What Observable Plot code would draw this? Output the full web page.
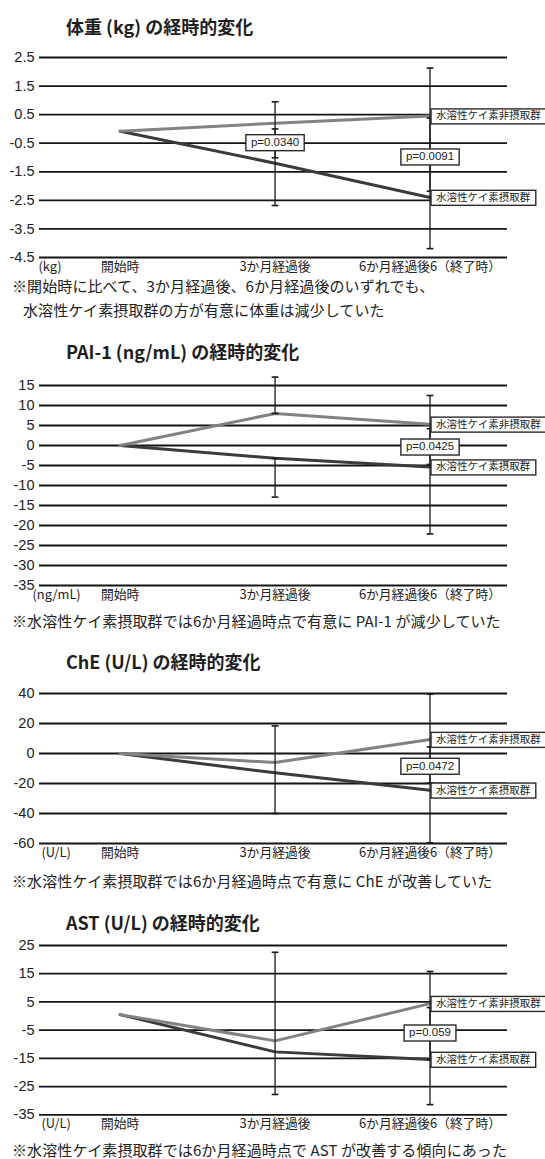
<!DOCTYPE html>
<html><head><meta charset="utf-8">
<script src="https://cdn.jsdelivr.net/npm/d3@7"></script>
<script src="https://cdn.jsdelivr.net/npm/@observablehq/plot@0.6"></script>
<style>
html,body{margin:0;padding:0;background:#fff;}
body{width:545px;height:1159px;position:relative;overflow:hidden;font-family:"Noto Sans CJK JP","Noto Sans",sans-serif;color:#222;}
.title{position:absolute;font-size:18px;line-height:18px;font-weight:bold;white-space:nowrap;color:#1e1e1e;}
.cap{position:absolute;font-size:15px;line-height:15px;letter-spacing:0.1px;white-space:nowrap;}
.panel{position:absolute;left:0;}
</style></head>
<body>
<script>
// ---- shared categories ----
const times = ["開始時", "3か月経過後", "6か月経過後6（終了時）"];
const groups = ["水溶性ケイ素非摂取群", "水溶性ケイ素摂取群"];

// ---- 体重 ----
const weightTicks = [2.5, 1.5, 0.5, -0.5, -1.5, -2.5, -3.5, -4.5];
const weightNon = [-0.08, 0.2, 0.45];
const weightIntake = [-0.08, -1.2, -2.4];
const weightErrTime = [1, 1, 2, 2];
const weightErrLo = [-1.01, -2.68, -2.18, -4.19];
const weightErrHi = [0.95, 0.0, 2.13, 0.38];
const weightPText = ["p=0.0340", "p=0.0091"];
const weightPTime = [1, 2];
const weightPY = [-0.47, -0.97];
const weightCaption = ["※開始時に比べて、3か月経過後、6か月経過後のいずれでも、", "水溶性ケイ素摂取群の方が有意に体重は減少していた"];

// ---- PAI-1 ----
const paiTicks = [15, 10, 5, 0, -5, -10, -15, -20, -25, -30, -35];
const paiNon = [0, 8.0, 5.3];
const paiIntake = [0, -3.2, -5.4];
const paiErrTime = [1, 1, 2, 2];
const paiErrLo = [8.0, -12.9, -4.75, -22.1];
const paiErrHi = [17.1, -3.2, 12.5, 4.2];
const paiPText = ["p=0.0425"];
const paiPTime = [2];
const paiPY = [-0.3];
const paiCaption = ["※水溶性ケイ素摂取群では6か月経過時点で有意に PAI-1 が減少していた"];

// ---- ChE ----
const cheTicks = [40, 20, 0, -20, -40, -60];
const cheNon = [0, -6, 9.3];
const cheIntake = [0, -12.9, -24.5];
const cheErrTime = [1, 2, 2];
const cheErrLo = [-40, -19.6, -59.5];
const cheErrHi = [18.4, 39.5, 4.4];
const chePText = ["p=0.0472"];
const chePTime = [2];
const chePY = [-8.3];
const cheCaption = ["※水溶性ケイ素摂取群では6か月経過時点で有意に ChE が改善していた"];

// ---- AST ----
const astTicks = [25, 15, 5, -5, -15, -25, -35];
const astNon = [0.5, -8.8, 4.4];
const astIntake = [0.5, -12.7, -15.4];
const astErrTime = [1, 2, 2];
const astErrLo = [-27.8, -15.4, -31.4];
const astErrHi = [22.6, 15.8, 3.0];
const astPText = ["p=0.059"];
const astPTime = [2];
const astPY = [-5.9];
const astCaption = ["※水溶性ケイ素摂取群では6か月経過時点で AST が改善する傾向にあった"];

const panels = [
  {title: "体重 (kg) の経時的変化", unit: "(kg)", unitDx: -1, ticks: weightTicks, non: weightNon, intake: weightIntake,
   errTime: weightErrTime, errLo: weightErrLo, errHi: weightErrHi, pText: weightPText, pTime: weightPTime, pY: weightPY,
   caption: weightCaption, L: {titleY: 26.7, gridTop: 57.3, gridBottom: 257.3, capY: [286.7, 310.5], capX: [12, 23]}},
  {title: "PAI-1 (ng/mL) の経時的変化", unit: "(ng/mL)", unitDx: -7, ticks: paiTicks, non: paiNon, intake: paiIntake,
   errTime: paiErrTime, errLo: paiErrLo, errHi: paiErrHi, pText: paiPText, pTime: paiPTime, pY: paiPY,
   caption: paiCaption, L: {titleY: 351.7, gridTop: 385, gridBottom: 585, capY: [621.7], capX: [12]}},
  {title: "ChE (U/L) の経時的変化", unit: "(U/L)", unitDx: 2, ticks: cheTicks, non: cheNon, intake: cheIntake,
   errTime: cheErrTime, errLo: cheErrLo, errHi: cheErrHi, pText: chePText, pTime: chePTime, pY: chePY,
   caption: cheCaption, L: {titleY: 661.7, gridTop: 693.3, gridBottom: 843.3, capY: [881.7], capX: [12]}},
  {title: "AST (U/L) の経時的変化", unit: "(U/L)", unitDx: 2, ticks: astTicks, non: astNon, intake: astIntake,
   errTime: astErrTime, errLo: astErrLo, errHi: astErrHi, pText: astPText, pTime: astPTime, pY: astPY,
   caption: astCaption, L: {titleY: 923.3, gridTop: 945, gridBottom: 1114.3, capY: [1150.5], capX: [12]}}
];

const capSymbol = {draw(ctx, size) { const r = Math.sqrt(size / Math.PI); ctx.moveTo(-r, 0); ctx.lineTo(r, 0); }};
const NUMFONT = "'Liberation Sans', Arial, sans-serif";
const JPFONT = "'Noto Sans CJK JP', sans-serif";

function boxify(g, padX, h) {
  if (!g) return;
  g.querySelectorAll("text").forEach(t => {
    const b = t.getBBox();
    const cy = parseFloat(t.getAttribute("y") || 0);
    const r = document.createElementNS("http://www.w3.org/2000/svg", "rect");
    r.setAttribute("x", b.x - padX);
    r.setAttribute("width", b.width + 2 * padX);
    r.setAttribute("y", cy - h / 2);
    r.setAttribute("height", h);
    r.setAttribute("fill", "#fff");
    r.setAttribute("stroke", "#2a2a2a");
    r.setAttribute("stroke-width", 1.4);
    const tr = t.getAttribute("transform");
    if (tr) r.setAttribute("transform", tr);
    t.parentNode.insertBefore(r, t);
  });
}

panels.forEach(p => {
  const mt = 12, mb = 26;
  const H = (p.L.gridBottom - p.L.gridTop) + mt + mb;
  const ymin = Math.min(...p.ticks), ymax = Math.max(...p.ticks);
  const series = [];
  times.forEach((t, i) => {
    series.push({t: i, v: p.non[i], g: groups[0]});
    series.push({t: i, v: p.intake[i], g: groups[1]});
  });
  const errs = p.errTime.map((t, i) => ({t, lo: p.errLo[i], hi: p.errHi[i]}));
  const caps = errs.flatMap(e => [{t: e.t, v: e.lo}, {t: e.t, v: e.hi}]);
  const labels = [{t: 2, v: p.non[2], s: groups[0]}, {t: 2, v: p.intake[2], s: groups[1]}];
  const pv = p.pText.map((s, i) => ({s, t: p.pTime[i], v: p.pY[i]}));

  const chart = Plot.plot({
    width: 545, height: H,
    marginLeft: 39, marginRight: 38, marginTop: mt, marginBottom: mb,
    x: {domain: [-0.52, 2.5], axis: null},
    y: {domain: [ymin, ymax], axis: null},
    style: {background: "transparent", overflow: "visible", color: "#222"},
    marks: [
      Plot.ruleY(p.ticks, {stroke: "#141414", strokeWidth: 1.8}),
      Plot.line(series.filter(d => d.g === groups[1]), {x: "t", y: "v", stroke: "#3b3b3b", strokeWidth: 3}),
      Plot.line(series.filter(d => d.g === groups[0]), {x: "t", y: "v", stroke: "#828282", strokeWidth: 3}),
      Plot.ruleX(errs, {x: "t", y1: "lo", y2: "hi", stroke: "#1a1a1a", strokeWidth: 1.3}),
      Plot.dot(caps, {x: "t", y: "v", symbol: capSymbol, r: 3.4, stroke: "#1a1a1a", strokeWidth: 1.6, fill: "none"}),
      Plot.text(p.ticks, {x: () => -0.52, y: d => d, text: d => String(d), textAnchor: "end", dx: -5,
        fontSize: 14.5, fontFamily: NUMFONT, fill: "#222"}),
      Plot.text(times, {x: (d, i) => i, text: d => d, frameAnchor: "bottom", dy: 13, fontSize: 12.8, fontFamily: JPFONT, fill: "#222"}),
      Plot.text([p.unit], {x: () => -0.52, text: d => d, frameAnchor: "bottom", dy: 13, dx: p.unitDx, textAnchor: "start", fontSize: 12.8, fontFamily: JPFONT, fill: "#222"}),
      Plot.text(labels, {x: "t", y: "v", text: "s", textAnchor: "start", dx: 6, fontSize: 10.5, fontFamily: JPFONT, fill: "#222"}),
      Plot.text(pv, {x: "t", y: "v", text: "s", fontSize: 11.5, fontFamily: NUMFONT, fill: "#222"})
    ]
  });
  const wrap = document.createElement("div");
  wrap.className = "panel";
  wrap.style.top = (p.L.gridTop - mt) + "px";
  wrap.appendChild(chart);
  document.body.appendChild(wrap);
  const svg = chart.tagName.toLowerCase() === "svg" ? chart : chart.querySelector("svg");
  const textGroups = svg.querySelectorAll('g[aria-label="text"]');
  boxify(textGroups[textGroups.length - 2], 5, 15);
  boxify(textGroups[textGroups.length - 1], 5, 16);

  const title = document.createElement("div");
  title.className = "title";
  title.textContent = p.title;
  title.style.left = "66px";
  title.style.top = (p.L.titleY - 10) + "px";
  document.body.appendChild(title);

  p.caption.forEach((c, i) => {
    const d = document.createElement("div");
    d.className = "cap";
    d.textContent = c;
    d.style.left = p.L.capX[i] + "px";
    d.style.top = (p.L.capY[i] - 8.3) + "px";
    document.body.appendChild(d);
  });
});
</script>
</body></html>
